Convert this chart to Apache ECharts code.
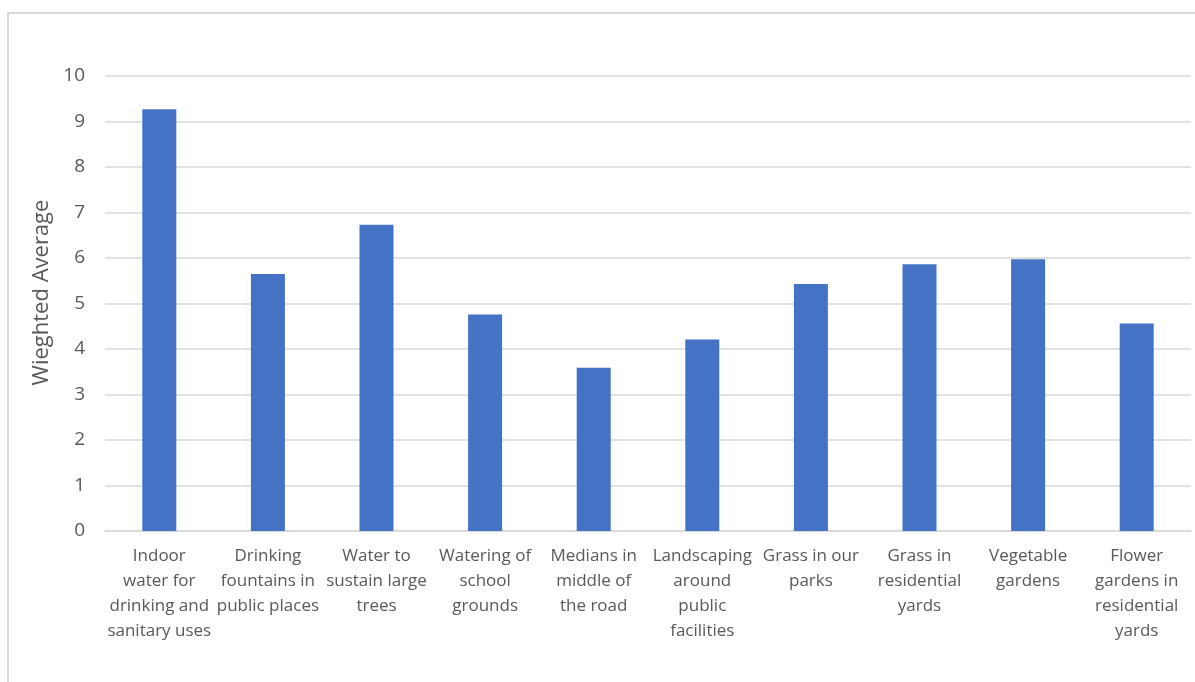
<!DOCTYPE html>
<html>
<head>
<meta charset="utf-8">
<script src="https://cdn.jsdelivr.net/npm/echarts@6/dist/echarts.min.js"></script>
<style>
html,body{margin:0;padding:0;background:#fff;}
#chart{width:1195px;height:682px;}
</style>
</head>
<body>
<div id="chart"></div>
<script>
var categories = [
  "Indoor\nwater for\ndrinking and\nsanitary uses",
  "Drinking\nfountains in\npublic places",
  "Water to\nsustain large\ntrees",
  "Watering of\nschool\ngrounds",
  "Medians in\nmiddle of\nthe road",
  "Landscaping\naround\npublic\nfacilities",
  "Grass in our\nparks",
  "Grass in\nresidential\nyards",
  "Vegetable\ngardens",
  "Flower\ngardens in\nresidential\nyards"
];
var values = [9.27, 5.65, 6.73, 4.76, 3.59, 4.21, 5.43, 5.86, 5.97, 4.56];
var yTicks = [0, 1, 2, 3, 4, 5, 6, 7, 8, 9, 10];
var yTitle = "Wieghted Average";

var chart = echarts.init(document.getElementById('chart'));
var font = "'Open Sans', sans-serif";
chart.setOption({
  animation: false,
  backgroundColor: '#fff',
  graphic: [{
    type: 'rect',
    shape: { x: 8, y: 13, width: 1250, height: 750 },
    style: { fill: 'none', stroke: '#d9d9d9', lineWidth: 2 },
    silent: true
  }],
  grid: { left: 105, right: 4, top: 76, bottom: 151 },
  xAxis: {
    type: 'category',
    data: categories,
    axisLine: { show: true, lineStyle: { color: '#d9d9d9', width: 1.5 } },
    axisTick: { show: false },
    axisLabel: {
      interval: 0,
      color: '#595959',
      fontFamily: font,
      fontSize: 17,
      lineHeight: 25,
      margin: 13,
      align: 'center'
    }
  },
  yAxis: {
    type: 'value',
    min: yTicks[0],
    max: yTicks[yTicks.length - 1],
    interval: 1,
    name: yTitle,
    nameLocation: 'middle',
    nameRotate: 90,
    nameGap: 50,
    nameTextStyle: { color: '#595959', fontFamily: font, fontSize: 22, padding: [0, 0, 0, 22] },
    axisLine: { show: false },
    axisTick: { show: false },
    splitLine: { lineStyle: { color: '#d9d9d9', width: 1.5 } },
    axisLabel: { color: '#595959', fontFamily: font, fontSize: 19, margin: 20 }
  },
  series: [{
    type: 'bar',
    data: values,
    barWidth: 34,
    itemStyle: { color: '#4472C4' }
  }]
});
</script>
</body>
</html>
